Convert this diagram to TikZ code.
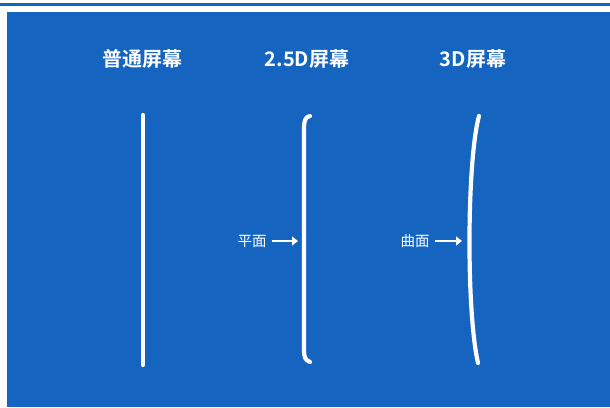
\documentclass[tikz,border=0pt]{standalone}
\usepackage{fontspec}
\newfontfamily\cjk{Noto Sans CJK SC}[BoldFont={Noto Sans CJK SC Bold}]
\usetikzlibrary{arrows.meta}
\definecolor{bgblue}{RGB}{20,100,192}
\definecolor{topblue}{RGB}{12,106,184}
\tikzset{
  title/.style={text=white,font=\cjk\bfseries\fontsize{20}{23}\selectfont,inner sep=0pt},
  lbl/.style={text=white,font=\cjk\fontsize{14.5}{17}\selectfont,inner sep=0pt},
  screen/.style={draw=white,line width=4.2pt,line cap=round},
  ptr/.style={draw=white,line width=2.8pt,-{Triangle[length=6pt,width=9pt]}}
}
\begin{document}
\begin{tikzpicture}[x=1pt,y=-1pt]
\useasboundingbox (0,0) rectangle (610,407);
\fill[white] (0,0) rectangle (610,407);
\fill[topblue] (0,3) rectangle (610,5.5);
\fill[bgblue] (7,12) rectangle (610,407);
% titles
\node[title] (t1) at (142,59) {普通屏幕};
\node[title] (t2) at (307,59) {2.5D屏幕};
\node[title] (t3) at (473,59) {3D屏幕};
% screens
\draw[screen] (143,115) -- (143,365);
\draw[screen] (310,116) .. controls (305,117) and (304,121) .. (304,129) -- (304,350) .. controls (304,357) and (305,360) .. (310,362);
\draw[screen] (479,116) .. controls (467,160) and (466,310) .. (478,363);
% labels and arrows
\coordinate (p2) at (298,241);
\coordinate (p3) at (462,241);
\node[lbl] (l2) at (252,241) {平面};
\node[lbl] (l3) at (415,241) {曲面};
\draw[ptr] ([xshift=5pt]l2.east) -- (p2);
\draw[ptr] ([xshift=5pt]l3.east) -- (p3);
\end{tikzpicture}
\end{document}
